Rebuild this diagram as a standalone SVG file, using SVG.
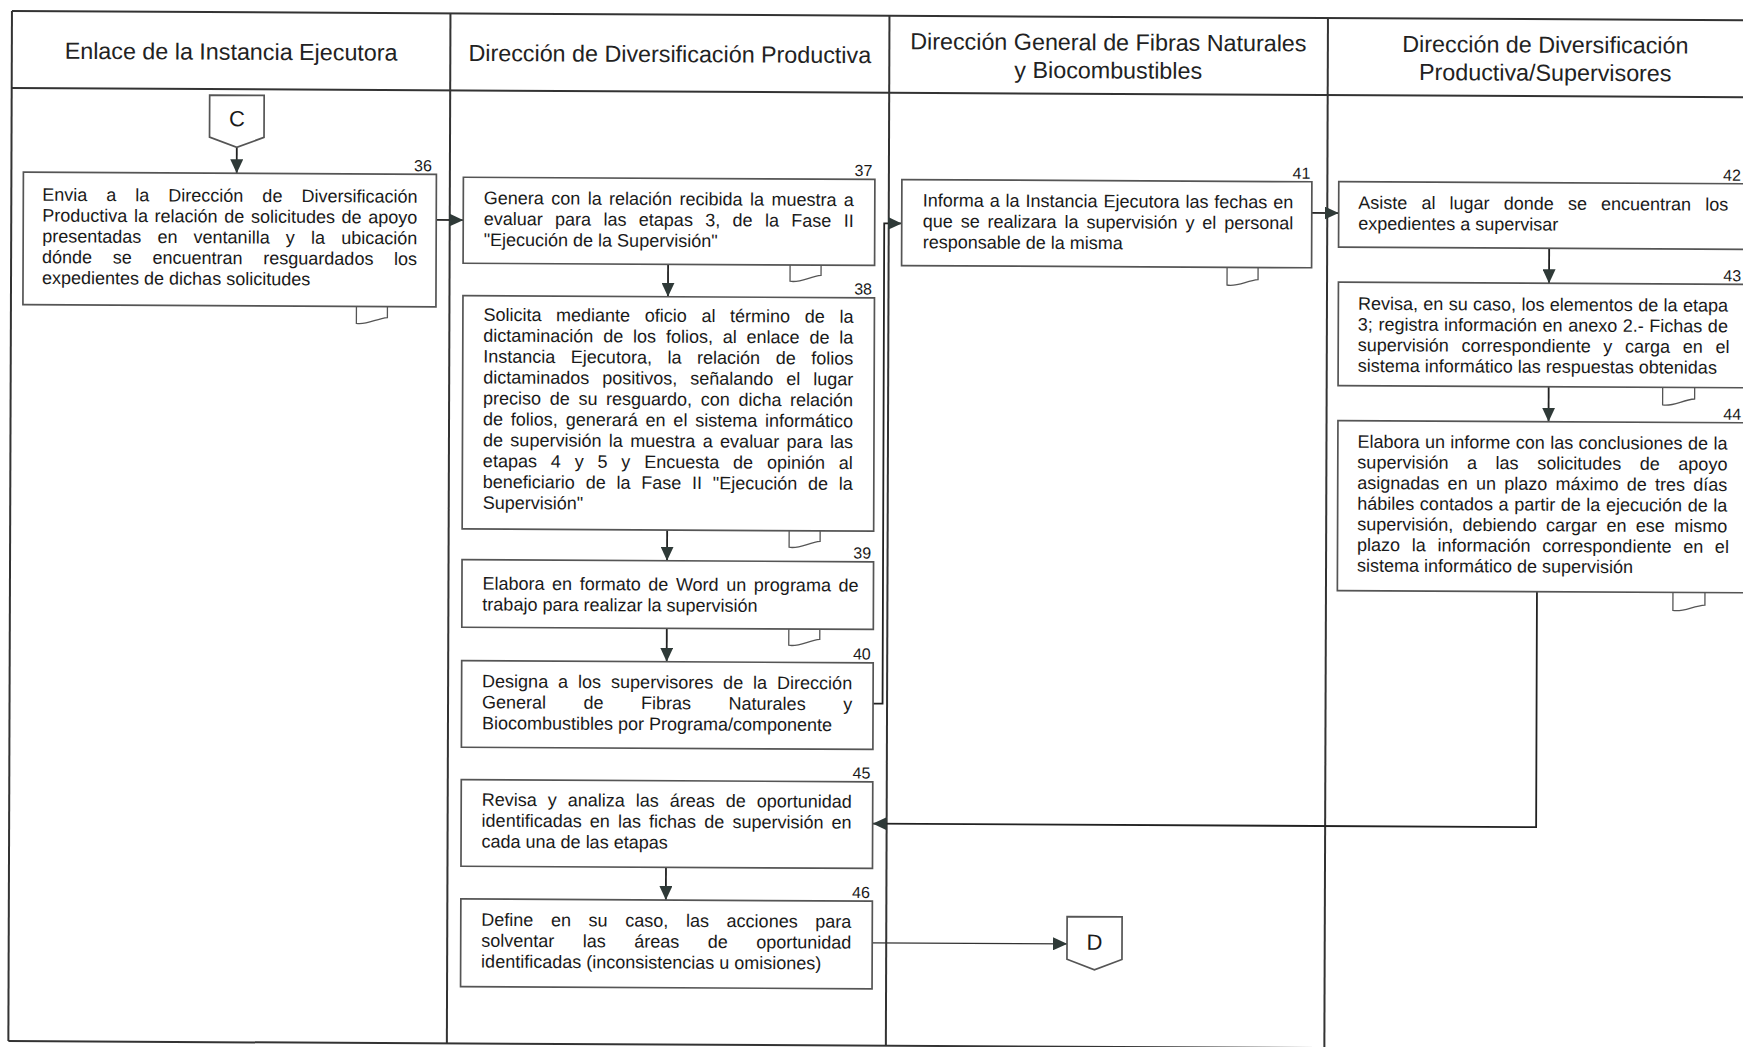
<svg xmlns="http://www.w3.org/2000/svg" width="1743" height="1047" viewBox="0 0 1743 1047">
<style>
.fr{stroke:#333;stroke-width:2;fill:none}
.bx{stroke:#555;stroke-width:1.7;fill:#fff}
.tab{stroke:#555;stroke-width:1.3;fill:none}
.cn{stroke:#222;stroke-width:1.8;fill:none}
.cn2{stroke:#333;stroke-width:1.3;fill:none}
.h{font-family:"Liberation Sans",Arial,sans-serif;font-size:23.3px;fill:#222;text-anchor:middle}
.t{font-family:"Liberation Sans",Arial,sans-serif;font-size:18px;fill:#1a1a1a}
.n{font-family:"Liberation Sans",Arial,sans-serif;font-size:16px;fill:#1a1a1a;text-anchor:end}
.c{font-family:"Liberation Sans",Arial,sans-serif;font-size:22px;fill:#1a1a1a;text-anchor:middle}
</style>
<defs>
<marker id="ah" markerUnits="userSpaceOnUse" markerWidth="14" markerHeight="13" refX="14" refY="6.5" orient="auto">
<path d="M0,0 L14,6.5 L0,13 Z" fill="#2f3a38"/>
</marker>
</defs>
<rect x="0" y="0" width="1743" height="1047" fill="#fff"/>
<g transform="matrix(1,0.0053,-0.0035,1,0,0)">
<g id="frame">
<line class="fr" x1="12" y1="11" x2="1770" y2="11"/>
<line class="fr" x1="12" y1="88" x2="1770" y2="88"/>
<line class="fr" x1="12" y1="1041" x2="1770" y2="1041"/>
<line class="fr" x1="12" y1="11" x2="12" y2="1041"/>
<line class="fr" x1="450.5" y1="11" x2="450.5" y2="1041"/>
<line class="fr" x1="889.5" y1="11" x2="889.5" y2="1041"/>
<line class="fr" x1="1328" y1="11" x2="1328" y2="1041"/>
<text class="h" x="231.3" y="58.5">Enlace de la Instancia Ejecutora</text>
<text class="h" x="670" y="58.5">Dirección de Diversificación Productiva</text>
<text class="h" x="1108.5" y="44.5">Dirección General de Fibras Naturales</text>
<text class="h" x="1108.5" y="72.5">y Biocombustibles</text>
<text class="h" x="1545.5" y="44.5">Dirección de Diversificación</text>
<text class="h" x="1545.5" y="72.5">Productiva/Supervisores</text>
</g>
<g id="connectors">
<line class="cn" x1="237.3" y1="146" x2="237.3" y2="172" marker-end="url(#ah)"/>
<line class="cn" x1="437" y1="217.6" x2="464" y2="217.6" marker-end="url(#ah)"/>
<line class="cn" x1="669" y1="260.8" x2="669" y2="293.2" marker-end="url(#ah)"/>
<line class="cn" x1="669" y1="526.5" x2="669" y2="557.2" marker-end="url(#ah)"/>
<line class="cn" x1="669" y1="624.8" x2="669" y2="658.2" marker-end="url(#ah)"/>
<polyline class="cn" points="875.5,699 885,699 885,218.6 902.5,218.6" marker-end="url(#ah)"/>
<line class="cn" x1="1312.5" y1="206" x2="1339.4" y2="206" marker-end="url(#ah)"/>
<line class="cn" x1="1550" y1="240.1" x2="1550" y2="275.1" marker-end="url(#ah)"/>
<line class="cn" x1="1550" y1="378.5" x2="1550" y2="413.5" marker-end="url(#ah)"/>
<polyline class="cn" points="1539,583.5 1539,819 875.5,819" marker-end="url(#ah)"/>
<line class="cn" x1="669" y1="863.8" x2="669" y2="896.5" marker-end="url(#ah)"/>
<line class="cn2" x1="875.5" y1="938.2" x2="1070.3" y2="938.2" marker-end="url(#ah)"/>
</g>
<g id="C">
<path class="bx" d="M210,94 H264.5 V136 L237.3,146 L210,136 Z"/>
<text class="c" x="237.3" y="125">C</text>
</g>
<g id="D">
<path class="bx" d="M1070.3,911 H1125.3 V953.5 L1097.8,964 L1070.3,953.5 Z"/>
<text class="c" x="1097.8" y="944">D</text>
</g>
<g id="n36">
<rect class="bx" x="24" y="172" width="413" height="132.5"/>
<path class="tab" d="M357.5,304.5 V321.5 C367.5,323.5 377.5,316.5 388.5,315.5 V304.5"/>
<text class="n" x="432.5" y="169">36</text>
<text class="t">
<tspan x="43" y="200.5" style="word-spacing:14px">Envia a la Dirección de Diversificación</tspan>
<tspan x="43" y="221.3" style="word-spacing:1.64px">Productiva la relación de solicitudes de apoyo</tspan>
<tspan x="43" y="242.1" style="word-spacing:11.17px">presentadas en ventanilla y la ubicación</tspan>
<tspan x="43" y="262.9" style="word-spacing:15.7px">dónde se encuentran resguardados los</tspan>
<tspan x="43" y="283.7">expedientes de dichas solicitudes</tspan>
</text>
</g>
<g id="n37">
<rect class="bx" x="464" y="174.8" width="411.5" height="86"/>
<path class="tab" d="M791,260.8 V277 C801,279 811,272 822,271 V260.8"/>
<text class="n" x="873" y="171.5">37</text>
<text class="t">
<tspan x="484.5" y="201.5" style="word-spacing:2.41px">Genera con la relación recibida la muestra a</tspan>
<tspan x="484.5" y="222.4" style="word-spacing:7.35px">evaluar para las etapas 3, de la Fase II</tspan>
<tspan x="484.5" y="243.3">"Ejecución de la Supervisión"</tspan>
</text>
</g>
<g id="n38">
<rect class="bx" x="464" y="293.2" width="411.5" height="233.3"/>
<path class="tab" d="M791,526.5 V543 C801,545 811,538 822,537 V526.5"/>
<text class="n" x="873" y="290">38</text>
<text class="t">
<tspan x="484.5" y="318.2" style="word-spacing:9.65px">Solicita mediante oficio al término de la</tspan>
<tspan x="484.5" y="339.1" style="word-spacing:4.83px">dictaminación de los folios, al enlace de la</tspan>
<tspan x="484.5" y="360" style="word-spacing:10.57px">Instancia Ejecutora, la relación de folios</tspan>
<tspan x="484.5" y="380.9" style="word-spacing:7.96px">dictaminados positivos, señalando el lugar</tspan>
<tspan x="484.5" y="401.8" style="word-spacing:3.64px">preciso de su resguardo, con dicha relación</tspan>
<tspan x="484.5" y="422.7" style="word-spacing:2.81px">de folios, generará en el sistema informático</tspan>
<tspan x="484.5" y="443.6" style="word-spacing:2.41px">de supervisión la muestra a evaluar para las</tspan>
<tspan x="484.5" y="464.5" style="word-spacing:8.85px">etapas 4 y 5 y Encuesta de opinión al</tspan>
<tspan x="484.5" y="485.4" style="word-spacing:5.78px">beneficiario de la Fase II "Ejecución de la</tspan>
<tspan x="484.5" y="506.3">Supervisión"</tspan>
</text>
</g>
<g id="n39">
<rect class="bx" x="464" y="557.2" width="411.5" height="67.6"/>
<path class="tab" d="M791,624.8 V641 C801,643 811,636 822,635 V624.8"/>
<text class="n" x="873" y="554">39</text>
<text class="t">
<tspan x="484.5" y="587" style="word-spacing:2.6px">Elabora en formato de Word un programa de</tspan>
<tspan x="484.5" y="607.9">trabajo para realizar la supervisión</tspan>
</text>
</g>
<g id="n40">
<rect class="bx" x="464" y="658.2" width="411.5" height="86.6"/>
<text class="n" x="873" y="655">40</text>
<text class="t">
<tspan x="484.5" y="684.8" style="word-spacing:4.98px">Designa a los supervisores de la Dirección</tspan>
<tspan x="484.5" y="705.7" style="word-spacing:32.5px">General de Fibras Naturales y</tspan>
<tspan x="484.5" y="726.6">Biocombustibles por Programa/componente</tspan>
</text>
</g>
<g id="n41">
<rect class="bx" x="902.5" y="174.8" width="410" height="86"/>
<path class="tab" d="M1228,260.8 V278.5 C1238,280.5 1248,274 1259,273 V260.8"/>
<text class="n" x="1311" y="171.8">41</text>
<text class="t">
<tspan x="923.5" y="201.5" style="word-spacing:0.9px">Informa a la Instancia Ejecutora las fechas en</tspan>
<tspan x="923.5" y="222.4" style="word-spacing:2.91px">que se realizara la supervisión y el personal</tspan>
<tspan x="923.5" y="243.3">responsable de la misma</tspan>
</text>
</g>
<g id="n42">
<rect class="bx" x="1339.4" y="174.5" width="411" height="65.6"/>
<text class="n" x="1741.5" y="171.5">42</text>
<text class="t">
<tspan x="1359" y="201.5" style="word-spacing:9.13px">Asiste al lugar donde se encuentran los</tspan>
<tspan x="1359" y="222.4">expedientes a supervisar</tspan>
</text>
</g>
<g id="n43">
<rect class="bx" x="1339.4" y="275.1" width="411" height="103.4"/>
<path class="tab" d="M1664,378.5 V396 C1674,398 1684,391 1696,390 V378.5"/>
<text class="n" x="1742" y="272">43</text>
<text class="t">
<tspan x="1359" y="302.5" style="word-spacing:0.35px">Revisa, en su caso, los elementos de la etapa</tspan>
<tspan x="1359" y="323.2" style="word-spacing:0.55px">3; registra información en anexo 2.- Fichas de</tspan>
<tspan x="1359" y="343.9" style="word-spacing:7.73px">supervisión correspondiente y carga en el</tspan>
<tspan x="1359" y="364.6">sistema informático las respuestas obtenidas</tspan>
</text>
</g>
<g id="n44">
<rect class="bx" x="1339.4" y="413.5" width="411" height="170"/>
<path class="tab" d="M1675,583.5 V601.5 C1685,603.5 1695,597 1707,596 V583.5"/>
<text class="n" x="1742.5" y="410.5">44</text>
<text class="t">
<tspan x="1359" y="440.5" style="word-spacing:0.4px">Elabora un informe con las conclusiones de la</tspan>
<tspan x="1359" y="461.15" style="word-spacing:13.57px">supervisión a las solicitudes de apoyo</tspan>
<tspan x="1359" y="481.8" style="word-spacing:3.26px">asignadas en un plazo máximo de tres días</tspan>
<tspan x="1359" y="502.45" style="word-spacing:0.6px">hábiles contados a partir de la ejecución de la</tspan>
<tspan x="1359" y="523.1" style="word-spacing:4.38px">supervisión, debiendo cargar en ese mismo</tspan>
<tspan x="1359" y="543.75" style="word-spacing:6.72px">plazo la información correspondiente en el</tspan>
<tspan x="1359" y="564.4">sistema informático de supervisión</tspan>
</text>
</g>
<g id="n45">
<rect class="bx" x="464" y="777.2" width="411.5" height="86.6"/>
<text class="n" x="873" y="774">45</text>
<text class="t">
<tspan x="484.5" y="803.2" style="word-spacing:6px">Revisa y analiza las áreas de oportunidad</tspan>
<tspan x="484.5" y="824.1" style="word-spacing:3.13px">identificadas en las fichas de supervisión en</tspan>
<tspan x="484.5" y="845">cada una de las etapas</tspan>
</text>
</g>
<g id="n46">
<rect class="bx" x="464" y="896.5" width="411.5" height="87.7"/>
<text class="n" x="873" y="893.5">46</text>
<text class="t">
<tspan x="484.5" y="923.2" style="word-spacing:12.65px">Define en su caso, las acciones para</tspan>
<tspan x="484.5" y="944.1" style="word-spacing:23.48px">solventar las áreas de oportunidad</tspan>
<tspan x="484.5" y="965">identificadas (inconsistencias u omisiones)</tspan>
</text>
</g>
</g>
</svg>
